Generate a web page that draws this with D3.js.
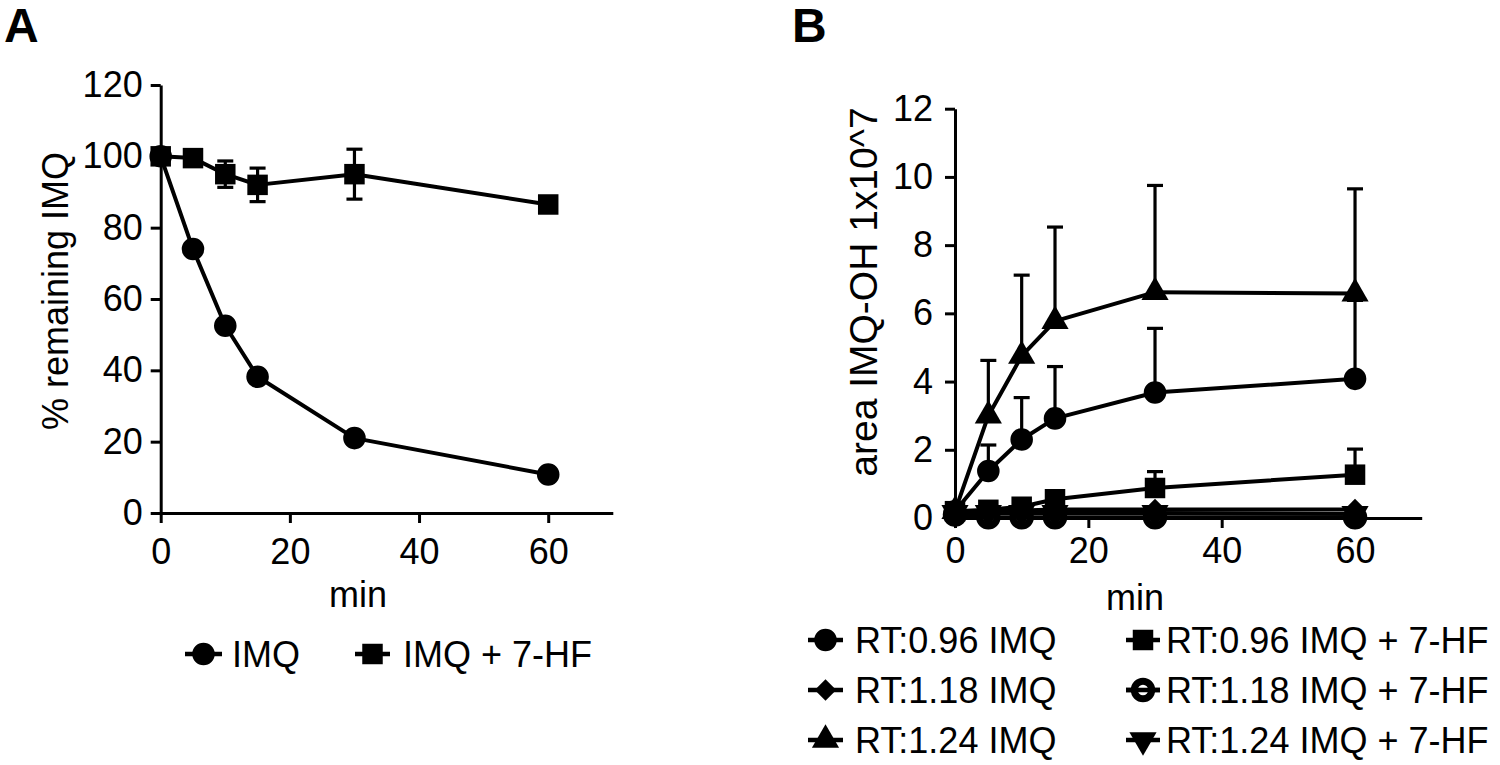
<!DOCTYPE html>
<html>
<head>
<meta charset="utf-8">
<script src="https://cdn.jsdelivr.net/npm/d3@7"></script>
<style>
  html, body { margin: 0; padding: 0; background: #fff; }
  svg { display: block; font-family: "Liberation Sans", Arial, Helvetica, sans-serif; }
</style>
</head>
<body>
<svg id="chart" width="1500" height="765"></svg>
<script>
// ---- panel A data ----
const minutes = [0, 5, 10, 15, 30, 60];
const x_ticks = [0, 20, 40, 60];
const a_y_ticks = [0, 20, 40, 60, 80, 100, 120];
const a_labels = ['IMQ', 'IMQ + 7-HF'];
const a_imq = [100, 74, 52.5, 38.2, 21, 10.8];
const a_imq_err = [0, 1, 1, 1, 1, 1];
const a_imq_hf = [100, 99.5, 95, 92, 95, 86.5];
const a_imq_hf_err = [0, 1, 3.7, 4.7, 7, 1.2];

// ---- panel B data ----
const b_y_ticks = [0, 2, 4, 6, 8, 10, 12];
const b_labels = [
  'RT:0.96 IMQ', 'RT:1.18 IMQ', 'RT:1.24 IMQ',
  'RT:0.96 IMQ + 7-HF', 'RT:1.18 IMQ + 7-HF', 'RT:1.24 IMQ + 7-HF'
];
const b_rt096 = [0.2, 1.38, 2.3, 2.92, 3.68, 4.08];
const b_rt096_err = [0, 0.76, 1.23, 1.52, 1.88, 2.3];
const b_rt118 = [0.15, 0.2, 0.22, 0.25, 0.25, 0.25];
const b_rt118_err = [0, 0, 0, 0, 0, 0];
const b_rt124 = [0.2, 3.0, 4.75, 5.77, 6.62, 6.58];
const b_rt124_err = [0, 1.62, 2.37, 2.76, 3.13, 3.07];
const b_rt096_hf = [0.2, 0.24, 0.33, 0.55, 0.88, 1.27];
const b_rt096_hf_err = [0, 0.05, 0.05, 0.1, 0.48, 0.75];
const b_rt118_hf = [0.1, 0.02, 0.02, 0.02, 0.02, 0.02];
const b_rt118_hf_err = [0, 0, 0, 0, 0, 0];
const b_rt124_hf = [0.15, 0.15, 0.15, 0.15, 0.15, 0.12];
const b_rt124_hf_err = [0, 0, 0, 0, 0, 0];

const FONT = 36;
const svg = d3.select('#chart');

// marker shapes, Prism style
const MARKERS = {
  circle: { path: d3.symbol().type(d3.symbolCircle).size(400)(), rot: 0, fill: '#000' },
  square: { path: d3.symbol().type(d3.symbolSquare).size(420)(), rot: 0, fill: '#000' },
  triangle: { path: d3.symbol().type(d3.symbolTriangle).size(320)(), rot: 0, fill: '#000' },
  diamond: { path: d3.symbol().type(d3.symbolSquare).size(230)(), rot: 45, fill: '#000' },
  open: { path: d3.symbol().type(d3.symbolCircle).size(240)(), rot: 0, fill: '#fff' },
  down: { path: d3.symbol().type(d3.symbolTriangle).size(320)(), rot: 180, fill: '#000' }
};

function draw_marker(g, kind, x, y) {
  let m = MARKERS[kind];
  g.append('path')
    .attr('d', m.path)
    .attr('transform', `translate(${x},${y}) rotate(${m.rot})`)
    .attr('fill', m.fill)
    .attr('stroke', '#000')
    .attr('stroke-width', kind === 'open' ? 7 : 0);
}

function draw_axes(g, x, y, y_ticks, x_pad, y_pad) {
  let ax = g.append('g')
    .attr('transform', `translate(0,${y(0)})`)
    .call(d3.axisBottom(x).tickValues(x_ticks).tickSize(10).tickSizeOuter(0).tickPadding(x_pad));
  let ay = g.append('g')
    .attr('transform', `translate(${x(0)},0)`)
    .call(d3.axisLeft(y).tickValues(y_ticks).tickSize(10).tickSizeOuter(0).tickPadding(y_pad));
  [ax, ay].forEach((a) => {
    a.selectAll('path, line').attr('stroke', '#000').attr('stroke-width', 3);
    a.selectAll('text').attr('fill', '#000').style('font-size', FONT + 'px');
  });
}

// one series: error bars, line, symbols
function draw_series(g, x, y, values, errs, kind, both_sides) {
  let pts = minutes.map((m, i) => ({ m: m, v: values[i], e: errs[i] }));
  let cap = 8;
  pts.filter((d) => d.e > 0).forEach((d) => {
    let top = y(d.v + d.e);
    let bot = both_sides ? y(d.v - d.e) : y(d.v);
    g.append('line').attr('x1', x(d.m)).attr('x2', x(d.m)).attr('y1', top).attr('y2', bot)
      .attr('stroke', '#000').attr('stroke-width', 3.2);
    g.append('line').attr('x1', x(d.m) - cap).attr('x2', x(d.m) + cap).attr('y1', top).attr('y2', top)
      .attr('stroke', '#000').attr('stroke-width', 3.2);
    if (both_sides) {
      g.append('line').attr('x1', x(d.m) - cap).attr('x2', x(d.m) + cap).attr('y1', bot).attr('y2', bot)
        .attr('stroke', '#000').attr('stroke-width', 3.2);
    }
  });
  g.append('path')
    .datum(pts)
    .attr('fill', 'none')
    .attr('stroke', '#000')
    .attr('stroke-width', 4)
    .attr('stroke-linejoin', 'round')
    .attr('d', d3.line().x((d) => x(d.m)).y((d) => y(d.v)));
  pts.forEach((d) => draw_marker(g, kind, x(d.m), y(d.v)));
}

function legend_item(g, kind, x0, x1, cy, tx, label) {
  g.append('line').attr('x1', x0).attr('x2', x1).attr('y1', cy).attr('y2', cy)
    .attr('stroke', '#000').attr('stroke-width', 4.5);
  draw_marker(g, kind, (x0 + x1) / 2, cy);
  if (kind === 'open') {
    g.append('line').attr('x1', x0).attr('x2', x1).attr('y1', cy).attr('y2', cy)
      .attr('stroke', '#000').attr('stroke-width', 4.5);
  }
  g.append('text').attr('x', tx).attr('y', cy + 13).text(label)
    .style('font-size', FONT + 'px');
}

// ================= panel A =================
const gA = svg.append('g');
const xA = d3.scaleLinear().domain([0, 70]).range([160.7, 612.8]);
const yA = d3.scaleLinear().domain([0, 120]).range([513, 85]);

draw_axes(gA, xA, yA, a_y_ticks, 15, 8);
draw_series(gA, xA, yA, a_imq, a_imq_err, 'circle', true);
draw_series(gA, xA, yA, a_imq_hf, a_imq_hf_err, 'square', true);

gA.append('text').attr('x', 4).attr('y', 42).text('A')
  .style('font-size', '48px').style('font-weight', 'bold');
gA.append('text').attr('x', 358).attr('y', 607).attr('text-anchor', 'middle')
  .text('min').style('font-size', FONT + 'px');
gA.append('text').attr('transform', 'translate(68,291) rotate(-90)').attr('text-anchor', 'middle')
  .text('% remaining IMQ').style('font-size', FONT + 'px');

legend_item(gA, 'circle', 185, 222, 654, 232, a_labels[0]);
legend_item(gA, 'square', 355, 390, 654, 403, a_labels[1]);

// ================= panel B =================
const gB = svg.append('g');
const xB = d3.scaleLinear().domain([0, 70]).range([955, 1421.7]);
const yB = d3.scaleLinear().domain([0, 12]).range([518, 108.7]);

draw_axes(gB, xB, yB, b_y_ticks, 9, 12);
draw_series(gB, xB, yB, b_rt096, b_rt096_err, 'circle', false);
draw_series(gB, xB, yB, b_rt118, b_rt118_err, 'diamond', false);
draw_series(gB, xB, yB, b_rt124, b_rt124_err, 'triangle', false);
draw_series(gB, xB, yB, b_rt096_hf, b_rt096_hf_err, 'square', false);
draw_series(gB, xB, yB, b_rt118_hf, b_rt118_hf_err, 'open', false);
draw_series(gB, xB, yB, b_rt124_hf, b_rt124_hf_err, 'down', false);

gB.append('text').attr('x', 792).attr('y', 42).text('B')
  .style('font-size', '48px').style('font-weight', 'bold');
gB.append('text').attr('x', 1135).attr('y', 610).attr('text-anchor', 'middle')
  .text('min').style('font-size', FONT + 'px');
gB.append('text').attr('transform', 'translate(877,292) rotate(-90)').attr('text-anchor', 'middle')
  .text('area IMQ-OH 1x10^7').style('font-size', '39px');

const b_kinds = ['circle', 'diamond', 'triangle', 'square', 'open', 'down'];
b_labels.forEach((lab, i) => {
  let col = Math.floor(i / 3);
  let row = i % 3;
  let cy = 640 + row * 50;
  if (col === 0) legend_item(gB, b_kinds[i], 808, 843, cy, 855, lab);
  else legend_item(gB, b_kinds[i], 1126, 1160, cy, 1166, lab);
});
</script>
</body>
</html>
